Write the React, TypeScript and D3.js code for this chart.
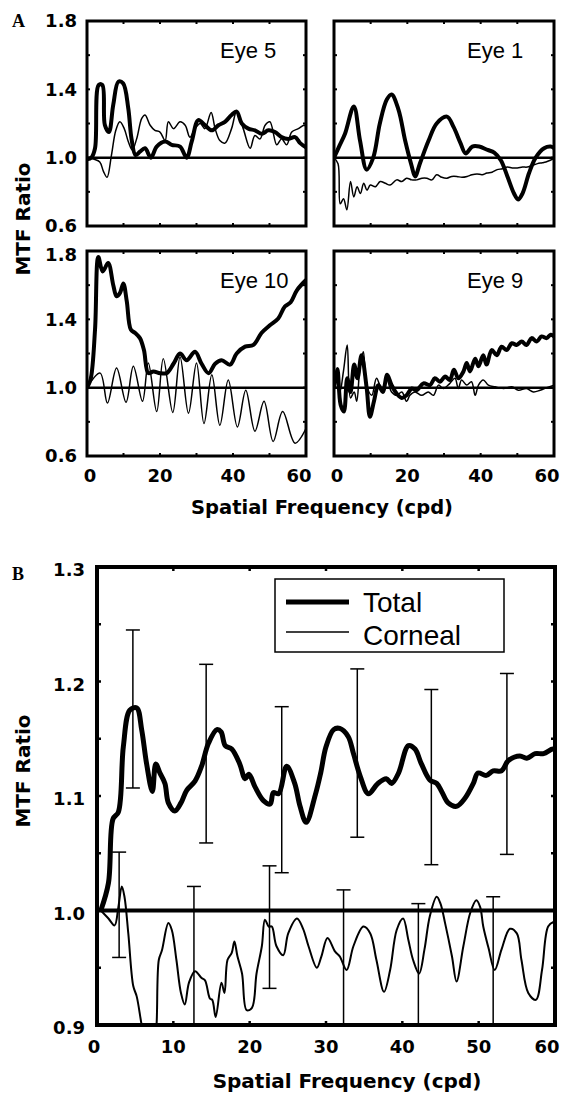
import React from "react";
import * as d3 from "d3";

type Pt = [number, number];

// ---- Panel A: per-eye MTF ratio (total = thick, corneal = thin) ----
const eye5Total: Pt[] = [[0,0.99],[1.2,1.0],[2.2,1.055],[3.2,1.425],[4.2,1.425],[4.9,1.19],[6.0,1.15],[7.2,1.31],[8.6,1.445],[9.9,1.435],[11.3,1.29],[12.2,1.11],[13.3,1.015],[14.5,1.035],[15.9,1.055],[17.5,1.0],[19.1,1.065],[21.4,1.095],[23.2,1.075],[25.5,1.065],[27.3,1.0],[28.7,1.095],[30.5,1.22],[32.3,1.19],[34.2,1.16],[36.0,1.19],[37.8,1.21],[39.6,1.25],[41.0,1.27],[42.4,1.2],[44.2,1.17],[46.0,1.16],[47.9,1.14],[49.7,1.16],[51.5,1.15],[53.3,1.12],[55.2,1.11],[57.0,1.12],[58.4,1.085],[60,1.06]];
const eye5Corneal: Pt[] = [[0,1.0],[2,0.99],[3.5,0.975],[4.5,0.92],[5.5,0.885],[6.7,1.015],[7.9,1.16],[9.0,1.21],[10.2,1.17],[11.3,1.095],[12.4,1.045],[13.6,1.11],[15.0,1.23],[15.9,1.25],[17.3,1.19],[18.6,1.16],[20.0,1.15],[21.4,1.1],[22.3,1.21],[23.7,1.17],[25.5,1.21],[26.9,1.19],[28.2,1.12],[29.6,1.17],[31.0,1.2],[32.3,1.17],[34.0,1.265],[35.1,1.17],[36.4,1.1],[37.8,1.085],[39.6,1.17],[41.0,1.27],[42.8,1.17],[44.7,1.055],[46.0,1.13],[47.4,1.11],[48.8,1.19],[50.1,1.21],[52.0,1.075],[53.3,1.11],[54.7,1.075],[56.1,1.15],[57.9,1.17],[59.5,1.19],[60,1.18]];

const eye1Total: Pt[] = [[0,1.0],[1.5,1.07],[3.0,1.14],[5.4,1.3],[7.1,1.1],[8.9,0.93],[10.7,1.0],[12.5,1.2],[14.4,1.34],[15.7,1.37],[17.6,1.28],[19.4,1.1],[21.2,0.95],[22.1,0.89],[23.5,0.97],[25.8,1.1],[28.0,1.2],[30.8,1.24],[32.6,1.18],[34.5,1.085],[35.9,1.025],[37.7,1.065],[39.6,1.065],[41.9,1.045],[43.7,1.03],[45.5,0.985],[47.3,0.89],[49.1,0.79],[50.2,0.755],[51.4,0.79],[53.2,0.91],[55.0,1.0],[57.3,1.055],[59.1,1.065],[60,1.055]];
const eye1Corneal: Pt[] = [[0,1.0],[1.1,0.965],[1.7,0.73],[2.6,0.76],[3.5,0.695],[4.5,0.86],[5.4,0.77],[6.3,0.83],[7.2,0.79],[8.1,0.85],[9.0,0.81],[9.9,0.84],[11.3,0.83],[12.6,0.86],[14.0,0.85],[15.3,0.84],[17.1,0.87],[18.5,0.86],[19.8,0.88],[21.2,0.87],[22.6,0.87],[24.0,0.88],[25.3,0.88],[26.7,0.87],[28.0,0.9],[29.4,0.885],[30.8,0.88],[32.1,0.89],[33.5,0.89],[34.9,0.885],[36.3,0.89],[37.6,0.9],[39.0,0.905],[40.4,0.9],[41.7,0.91],[43.1,0.915],[44.5,0.93],[45.9,0.935],[47.3,0.945],[48.6,0.94],[50.0,0.94],[51.4,0.945],[52.7,0.945],[54.1,0.955],[55.5,0.965],[56.8,0.97],[57.8,0.975],[59,0.985],[60,0.995]];

const eye10Total: Pt[] = [[0,1.0],[1.0,1.05],[2.2,1.34],[3.1,1.765],[4.3,1.68],[5.8,1.73],[7.2,1.6],[8.1,1.535],[9.05,1.555],[9.95,1.61],[10.9,1.505],[12.0,1.34],[13.2,1.32],[14.5,1.29],[15.6,1.22],[16.8,1.085],[18.2,1.095],[20.0,1.085],[21.8,1.085],[23.7,1.14],[25.5,1.2],[27.3,1.16],[29.6,1.21],[31.4,1.14],[33.3,1.085],[35.1,1.14],[36.9,1.16],[39.2,1.135],[41.0,1.2],[43.3,1.24],[45.6,1.25],[47.8,1.32],[50.1,1.365],[52.4,1.405],[54.2,1.475],[55.8,1.5],[57.5,1.57],[60,1.63]];
const eye10Corneal: Pt[] = [[0,1.0],[3.6,1.085],[5.6,0.91],[8.1,1.115],[10.7,0.915],[12.7,1.125],[15.2,0.92],[16.8,1.145],[19.1,0.86],[20.9,1.17],[23.5,0.855],[25.5,1.18],[27.8,0.85],[30.0,1.145],[32.05,0.79],[34.2,1.075],[36.4,0.78],[38.7,1.045],[41.2,0.77],[43.5,0.985],[46.0,0.745],[48.5,0.92],[51.0,0.685],[53.6,0.86],[57.0,0.675],[60,0.76]];

const eye9Total: Pt[] = [[0,1.0],[0.9,1.11],[1.8,0.9],[2.7,0.86],[3.6,1.055],[4.5,0.975],[5.5,1.135],[6.4,1.055],[7.5,1.19],[8.9,1.0],[9.8,0.83],[10.9,0.92],[12.1,1.015],[13.3,0.975],[14.5,1.075],[15.7,1.015],[17.1,0.965],[18.5,0.94],[19.8,0.955],[21.2,0.995],[22.5,0.985],[24.4,1.025],[26.2,1.015],[27.5,1.055],[28.9,1.035],[30.3,1.065],[31.6,1.045],[32.7,1.105],[33.9,1.055],[35.3,1.095],[36.2,1.145],[37.1,1.095],[38.5,1.17],[39.4,1.125],[40.7,1.19],[41.6,1.135],[43.0,1.22],[44.4,1.19],[45.7,1.24],[47.1,1.22],[48.5,1.26],[49.8,1.25],[51.2,1.27],[52.5,1.25],[53.9,1.29],[55.3,1.27],[56.6,1.3],[58.0,1.29],[59.1,1.31],[60,1.3]];
const eye9Corneal: Pt[] = [[0,1.0],[0.7,1.055],[1.6,0.975],[2.6,1.1],[3.6,1.25],[4.5,0.94],[5.5,0.975],[6.2,0.92],[7.0,1.1],[8.0,1.21],[8.9,1.015],[10.3,0.955],[11.6,1.055],[13.0,0.995],[14.4,1.045],[15.7,0.975],[17.1,0.955],[18.5,0.975],[19.8,0.92],[20.7,0.955],[22.1,0.975],[23.9,0.955],[25.7,0.975],[27.1,0.955],[28.5,1.015],[29.8,0.995],[31.6,1.025],[33.0,1.055],[33.9,0.995],[34.8,1.045],[36.2,1.015],[37.5,1.035],[38.5,0.955],[39.4,1.015],[40.7,1.045],[42.1,1.015],[43.9,1.005],[46.2,0.995],[48.5,1.005],[50.3,0.985],[52.5,0.995],[54.4,0.975],[56.2,0.985],[58.0,1.0],[60,1.015]];

const eyeLabels = ["Eye 5", "Eye 1", "Eye 10", "Eye 9"];
const yTicksA = [0.6, 1.0, 1.4, 1.8];
const xTicksA = [0, 20, 40, 60];

// ---- Panel B: mean over eyes ----
const meanTotal: Pt[] = [[0.5,1.0],[1.5,1.024],[2.1,1.08],[2.8,1.086],[3.45,1.143],[4.3,1.175],[5.2,1.177],[5.85,1.158],[6.5,1.128],[7.25,1.104],[7.7,1.128],[8.25,1.12],[8.9,1.111],[9.35,1.094],[10.2,1.087],[11.0,1.094],[11.75,1.105],[12.84,1.113],[13.7,1.126],[14.6,1.146],[15.7,1.158],[16.25,1.156],[16.8,1.144],[17.65,1.141],[18.7,1.128],[19.4,1.115],[19.9,1.119],[20.7,1.108],[21.8,1.096],[22.7,1.093],[23.1,1.103],[23.8,1.102],[24.85,1.126],[25.9,1.111],[26.6,1.091],[27.4,1.077],[28.6,1.101],[29.3,1.12],[30.0,1.143],[31.0,1.158],[31.8,1.159],[32.9,1.152],[33.6,1.137],[34.5,1.117],[35.55,1.102],[36.8,1.111],[37.9,1.115],[38.6,1.111],[39.5,1.12],[40.8,1.144],[41.66,1.141],[42.5,1.128],[43.6,1.114],[44.5,1.111],[45.15,1.104],[46.0,1.094],[47.1,1.091],[48.2,1.098],[49.3,1.111],[49.9,1.12],[51.0,1.118],[51.9,1.122],[53.0,1.122],[53.9,1.131],[55.4,1.135],[56.3,1.133],[57.4,1.137],[58.5,1.137],[59.7,1.141],[60,1.14]];
const meanCorneal: Pt[] = [[0.5,1.0],[1.5,0.993],[2.3,0.987],[2.8,1.003],[3.25,1.021],[3.6,1.012],[4.1,0.98],[4.75,0.934],[5.2,0.925],[5.85,0.9],[6.6,0.875],[7.5,0.88],[7.8,0.9],[8.1,0.957],[8.5,0.965],[9.35,0.989],[9.8,0.983],[10.4,0.957],[11.0,0.928],[11.5,0.918],[12.05,0.937],[12.84,0.947],[13.7,0.941],[14.15,0.939],[14.8,0.923],[15.1,0.922],[15.55,0.907],[16.3,0.937],[16.7,0.928],[17.1,0.957],[17.65,0.963],[18.0,0.973],[18.4,0.96],[19.0,0.945],[19.6,0.913],[20.3,0.915],[20.9,0.945],[21.6,0.969],[22.0,0.992],[22.5,0.986],[22.9,0.986],[23.5,0.969],[24.4,0.961],[25.05,0.98],[26.2,0.993],[27.0,0.984],[27.7,0.969],[28.8,0.95],[29.4,0.96],[30.2,0.976],[31.2,0.964],[31.8,0.96],[32.7,0.948],[33.6,0.969],[34.9,0.986],[35.8,0.98],[36.6,0.957],[37.6,0.929],[38.4,0.948],[39.26,0.983],[40.1,0.993],[40.8,0.974],[41.4,0.957],[42.2,0.945],[42.9,0.966],[43.6,0.995],[44.5,1.012],[45.0,1.006],[45.6,0.989],[46.5,0.96],[47.1,0.938],[48.0,0.969],[48.9,0.998],[49.7,1.009],[50.2,1.003],[50.6,0.986],[51.3,0.967],[52.1,0.948],[53.0,0.966],[54.1,0.984],[55.0,0.98],[55.6,0.957],[56.5,0.928],[57.5,0.922],[58.3,0.948],[59.1,0.986],[59.8,0.99],[60,0.99]];

// error bars: [frequency, mean, sd]
const totalErr: [number, number, number][] = [[4.7,1.176,0.069],[14.3,1.137,0.078],[24.2,1.1055,0.0725],[34.1,1.1375,0.0735],[43.8,1.1165,0.0765],[53.7,1.128,0.079]];
const cornealErr: [number, number, number][] = [[2.9,1.005,0.046],[12.7,0.946,0.075],[22.6,0.9855,0.0535],[32.3,0.95,0.068],[42.1,0.945,0.061],[51.9,0.95,0.062]];

const yTicksB = [0.9, 1.0, 1.1, 1.2, 1.3];
const xTicksB = [0, 10, 20, 30, 40, 50, 60];
const legendItems = ["Total", "Corneal"];

const BOLD = "'DejaVu Sans', sans-serif";
const SANS = "'Liberation Sans', Arial, sans-serif";

function SmallPanel({ id, x0, x1, y0, y1, total, corneal, label, xLabels }: any) {
  const x = d3.scaleLinear().domain([0, 60]).range([x0, x1]);
  const y = d3.scaleLinear().domain([0.6, 1.8]).range([y1, y0]);
  const line = d3
    .line<Pt>()
    .x((d) => x(d[0]))
    .y((d) => y(d[1]))
    .curve(d3.curveCatmullRom.alpha(0.5));
  const xMinor = d3.range(10, 60, 10);
  const yMinor = [0.8, 1.2, 1.6, 1.0, 1.4];
  return (
    <g>
      <defs>
        <clipPath id={id}>
          <rect x={x0} y={y0} width={x1 - x0} height={y1 - y0} />
        </clipPath>
      </defs>
      <g clipPath={`url(#${id})`}>
        <path d={line(corneal) || ""} fill="none" stroke="#000" strokeWidth={1.5} />
        <path d={line(total) || ""} fill="none" stroke="#000" strokeWidth={4} strokeLinejoin="round" />
        <line x1={x0} x2={x1} y1={y(1)} y2={y(1)} stroke="#000" strokeWidth={2.5} />
      </g>
      {xMinor.map((t) => (
        <g key={"xt" + t}>
          <line x1={x(t)} x2={x(t)} y1={y0} y2={y0 + 3} stroke="#000" strokeWidth={2} />
          <line x1={x(t)} x2={x(t)} y1={y1} y2={y1 - 3} stroke="#000" strokeWidth={2} />
        </g>
      ))}
      {yMinor.map((t) => (
        <g key={"yt" + t}>
          <line x1={x0} x2={x0 + 3} y1={y(t)} y2={y(t)} stroke="#000" strokeWidth={2} />
          <line x1={x1} x2={x1 - 3} y1={y(t)} y2={y(t)} stroke="#000" strokeWidth={2} />
        </g>
      ))}
      <rect x={x0} y={y0} width={x1 - x0} height={y1 - y0} fill="none" stroke="#000" strokeWidth={3} />
      <text x={x0 + 133} y={y0 + 37} fontFamily={SANS} fontSize={22}>
        {label}
      </text>
      {xLabels &&
        xTicksA.map((t) => (
          <text key={"xl" + t} x={x(t) + (t === 60 ? -7 : t === 0 ? 3 : 0)} y={y1 + 26} textAnchor="middle" fontFamily={BOLD} fontWeight="bold" fontSize={18}>
            {t}
          </text>
        ))}
    </g>
  );
}

export default function App() {
  const panels = [
    { x0: 87, x1: 306, y0: 21, y1: 226, total: eye5Total, corneal: eye5Corneal },
    { x0: 334, x1: 554, y0: 21, y1: 226, total: eye1Total, corneal: eye1Corneal },
    { x0: 87, x1: 306, y0: 251, y1: 456, total: eye10Total, corneal: eye10Corneal },
    { x0: 334, x1: 554, y0: 251, y1: 456, total: eye9Total, corneal: eye9Corneal },
  ];
  const yA1 = d3.scaleLinear().domain([0.6, 1.8]).range([226, 21]);
  const yA2 = d3.scaleLinear().domain([0.6, 1.8]).range([456, 251]);

  // panel B geometry
  const bx0 = 97, bx1 = 555, by0 = 567, by1 = 1025;
  const xB = d3.scaleLinear().domain([0, 60]).range([bx0, bx1]);
  const yB = d3.scaleLinear().domain([0.9, 1.3]).range([by1, by0]);
  const lineB = d3
    .line<Pt>()
    .x((d) => xB(d[0]))
    .y((d) => yB(d[1]))
    .curve(d3.curveCatmullRom.alpha(0.5));
  const bxMinor = d3.range(10, 60, 10);
  const byMinor = d3.range(0.95, 1.29, 0.05);
  const errBars = [...totalErr, ...cornealErr];

  return (
    <svg width={565} height={1095} style={{ position: "absolute", left: 0, top: 0, background: "#fff" }}>
      {/* ---------- Panel A ---------- */}
      <text x={12} y={27} fontFamily="'Liberation Serif', 'Times New Roman', serif" fontWeight="bold" fontSize={18}>
        A
      </text>
      {panels.map((p, i) => (
        <SmallPanel key={i} id={"clipA" + i} {...p} label={eyeLabels[i]} xLabels={i >= 2} />
      ))}
      {yTicksA.map((t) => (
        <text key={"ya1" + t} x={77} y={yA1(t)} dy="0.36em" textAnchor="end" fontFamily={BOLD} fontWeight="bold" fontSize={18}>
          {t.toFixed(1)}
        </text>
      ))}
      {yTicksA.map((t) => (
        <text key={"ya2" + t} x={77} y={yA2(t) + (t === 1.8 ? 4 : 0)} dy="0.36em" textAnchor="end" fontFamily={BOLD} fontWeight="bold" fontSize={18}>
          {t.toFixed(1)}
        </text>
      ))}
      <text transform="translate(30,219) rotate(-90)" textAnchor="middle" fontFamily={BOLD} fontWeight="bold" fontSize={20}>
        MTF Ratio
      </text>
      <text x={322} y={514} textAnchor="middle" fontFamily={BOLD} fontWeight="bold" fontSize={19.5}>
        Spatial Frequency (cpd)
      </text>

      {/* ---------- Panel B ---------- */}
      <text x={12} y={580} fontFamily="'Liberation Serif', 'Times New Roman', serif" fontWeight="bold" fontSize={18}>
        B
      </text>
      <defs>
        <clipPath id="clipB">
          <rect x={bx0} y={by0} width={bx1 - bx0} height={by1 - by0} />
        </clipPath>
      </defs>
      <g clipPath="url(#clipB)">
        <path d={lineB(meanCorneal) || ""} fill="none" stroke="#000" strokeWidth={2} />
        <path d={lineB(meanTotal) || ""} fill="none" stroke="#000" strokeWidth={5} strokeLinejoin="round" />
        <line x1={bx0} x2={bx1} y1={yB(1)} y2={yB(1)} stroke="#000" strokeWidth={4} />
        {errBars.map(([f, m, s], i) => (
          <g key={"eb" + i} stroke="#000" strokeWidth={1.5}>
            <line x1={xB(f)} x2={xB(f)} y1={yB(m - s)} y2={yB(m + s)} />
            <line x1={xB(f) - 7} x2={xB(f) + 7} y1={yB(m + s)} y2={yB(m + s)} />
            <line x1={xB(f) - 7} x2={xB(f) + 7} y1={yB(m - s)} y2={yB(m - s)} />
          </g>
        ))}
      </g>
      {bxMinor.map((t) => (
        <g key={"bxt" + t}>
          <line x1={xB(t)} x2={xB(t)} y1={by0} y2={by0 + 4} stroke="#000" strokeWidth={2.5} />
          <line x1={xB(t)} x2={xB(t)} y1={by1} y2={by1 - 4} stroke="#000" strokeWidth={2.5} />
        </g>
      ))}
      {byMinor.map((t) => (
        <g key={"byt" + t}>
          <line x1={bx0} x2={bx0 + 4} y1={yB(t)} y2={yB(t)} stroke="#000" strokeWidth={2.5} />
          <line x1={bx1} x2={bx1 - 4} y1={yB(t)} y2={yB(t)} stroke="#000" strokeWidth={2.5} />
        </g>
      ))}
      <rect x={bx0} y={by0} width={bx1 - bx0} height={by1 - by0} fill="none" stroke="#000" strokeWidth={4} />
      {yTicksB.map((t) => (
        <text key={"yb" + t} x={85} y={yB(t) + 3} dy="0.36em" textAnchor="end" fontFamily={BOLD} fontWeight="bold" fontSize={18}>
          {t.toFixed(1)}
        </text>
      ))}
      {xTicksB.map((t) => (
        <text key={"xb" + t} x={t === 60 ? xB(t) - 8 : t === 0 ? xB(t) - 3 : xB(t)} y={1053} textAnchor="middle" fontFamily={BOLD} fontWeight="bold" fontSize={18}>
          {t}
        </text>
      ))}
      <text transform="translate(30,771) rotate(-90)" textAnchor="middle" fontFamily={BOLD} fontWeight="bold" fontSize={20}>
        MTF Ratio
      </text>
      <text x={347} y={1088} textAnchor="middle" fontFamily={BOLD} fontWeight="bold" fontSize={20}>
        Spatial Frequency (cpd)
      </text>

      {/* legend */}
      <rect x={275} y={579} width={229} height={73} fill="#fff" stroke="#000" strokeWidth={1.5} />
      {legendItems.map((name, i) => (
        <g key={name}>
          <line x1={286} x2={349} y1={602 + i * 30} y2={602 + i * 30} stroke="#000" strokeWidth={i === 0 ? 5 : 1.5} />
          <text x={363} y={612 + i * 33} fontFamily={SANS} fontSize={28}>
            {name}
          </text>
        </g>
      ))}
    </svg>
  );
}
